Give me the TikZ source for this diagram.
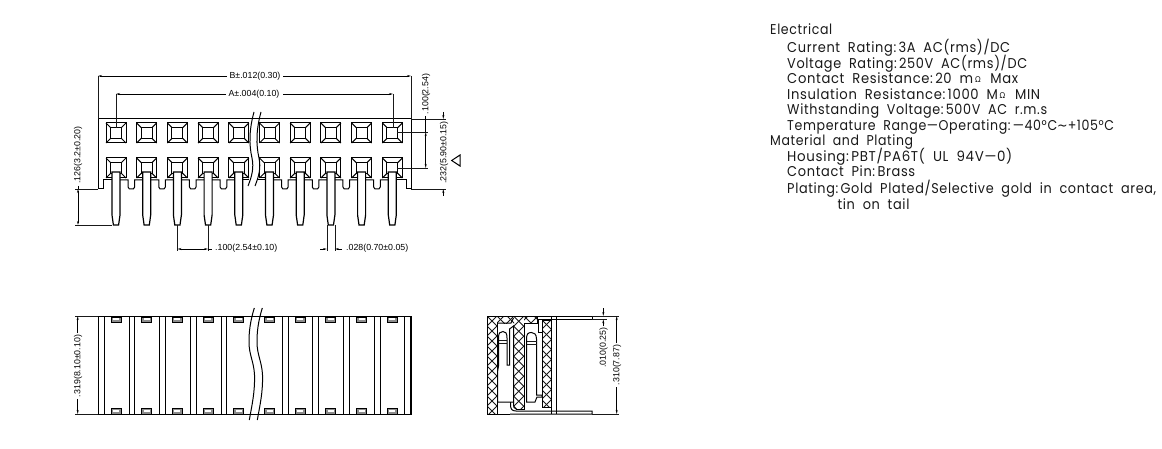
\documentclass[tikz,border=0pt]{standalone}
\usepackage{fontspec}
\usepackage{graphicx}
\usetikzlibrary{arrows.meta}
\setmainfont{Liberation Sans}
\newfontfamily\specfont[LetterSpace=5,WordSpace=1.9]{Poppins}
\newfontfamily\symfont{DejaVu Sans}
\newcommand{\omg}{\kern2pt{\symfont\raisebox{1.6pt}{\fontsize{8}{8}\selectfont Ω}}\kern2pt}
\newcommand{\cg}{\kern2.5pt}
\newsavebox{\linebox}
\newcommand{\fitted}[2]{\sbox{\linebox}{#2}\pgfmathsetmacro{\xs}{#1/(\wd\linebox/1pt)}\scalebox{\xs}[1]{\usebox{\linebox}}}
\tikzset{
  x=1pt,y=-1pt,
  ln/.style={line width=1pt,black},
  thin ln/.style={line width=0.75pt,black!90},
  dimtxt/.style={font=\fontsize{8.8}{10}\selectfont,inner sep=0pt,text=black},
  dimv/.style={dimtxt,rotate=90},
  dimarr/.style={line width=0.75pt,black,{Stealth[length=4pt,width=2pt]}-{Stealth[length=4pt,width=2pt]}},
  dimend/.style={line width=0.75pt,black,-{Stealth[length=4pt,width=2pt]}},
  plain dim/.style={line width=0.75pt,black},
  spec/.style={anchor=base west,inner sep=0pt,font=\specfont\fontsize{14.2}{16}\selectfont,text=black!90},
}
\newcommand{\sq}[2]{%
  \draw[ln] (#1,#2) rectangle ++(20,20);
  \draw[ln] (#1+4.5,#2+4.5) rectangle ++(11,11);
  \draw[ln] (#1,#2)--++(4.5,4.5) (#1+20,#2)--++(-4.5,4.5) (#1,#2+20)--++(4.5,-4.5) (#1+20,#2+20)--++(-4.5,-4.5);
}
\newcommand{\xhatch}[4]{%
  \begin{scope}
    \clip (#1,#2) rectangle (#3,#4);
    \foreach \k in {-12,...,14}{
      \draw[thin ln] (#1-5,#2+\k*10-5) -- ++(120,120);
      \draw[thin ln] (#3+5,#2+\k*10-5) -- ++(-120,120);
    }
  \end{scope}
}
\begin{document}
\begin{tikzpicture}
\useasboundingbox (0,0) rectangle (1162,449);
% ---------- top view ----------
\draw[ln] (98,189)--(98,119)--(411,119)--(411,189)--(406,189)--(406,180)--(396.3,180);
\draw[ln] (98,189)--(103,189)--(103,180)--(112,180);
\foreach \i in {0,...,9}{
  \pgfmathsetmacro{\sx}{106+30.7*\i}
  \sq{\sx}{123}
  \sq{\sx}{158}
}
\foreach \i in {0,...,9}{
  \pgfmathsetmacro{\pc}{116+30.7*\i}
  \filldraw[line width=1.2pt,black,fill=white] (\pc-4,172)--(\pc-4,215)--(\pc-2.6,225)--(\pc+2.6,225)--(\pc+4,215)--(\pc+4,172)--cycle;
}
\foreach \i in {0,1,2,3,5,6,7,8}{
  \pgfmathsetmacro{\n}{131.35+30.7*\i}
  \draw[ln] (\n-11.35,180)--(\n-3.3,180)--(\n-3.3,187)--(\n-2,189)--(\n+2,189)--(\n+3.3,187)--(\n+3.3,180)--(\n+11.35,180);
}
\draw[ln] (242.8,180)--(249,180) (257,180)--(265.5,180);
% breaks
\draw[ln] (254,112) .. controls (249,130) and (249,145) .. (252,158) .. controls (254,168) and (252,176) .. (248,186);
\draw[ln] (261,112) .. controls (256,130) and (256,145) .. (259,158) .. controls (261,168) and (259,176) .. (255,186);
% dims top
\draw[dimend] (227,76)--(98,76);
\draw[dimend] (283,76)--(411,76);
\draw[thin ln] (98,76)--(98,119) (411,76)--(411,119);
\node[dimtxt] (tb) at (255,76) {B±.012(0.30)};
\draw[dimend] (226,94)--(116,94);
\draw[dimend] (283,94)--(393,94);
\draw[thin ln] (116,94)--(116,128) (393,94)--(393,128);
\node[dimtxt] (ta) at (254,94) {A±.004(0.10)};
% right dims
\draw[thin ln] (397,132)--(428,132) (397,168)--(428,168) (411,119)--(446,119) (411,189)--(446,189);
\draw[plain dim] (425.7,116)--(425.7,132);
\draw[dimarr] (425.7,132)--(425.7,168);
\node[dimv] (t100) at (426,94) {.100(2.54)};
\draw[dimend] (443.3,112)--(443.3,119);
\draw[dimend] (443.3,196)--(443.3,189);
\node[dimv] (t232) at (444,152.5) {.232(5.90±0.15)};
\draw[ln] (451.7,160.5)--(460,155)--(460,166)--cycle;
% left dim
\draw[thin ln] (75,189)--(98,189) (75,225)--(112,225);
\draw[dimarr] (78,189)--(78,225);
\draw[plain dim] (78,186)--(78,189);
\node[dimv] (t126) at (78,155) {.126(3.2±0.20)};
% below dims
\draw[thin ln] (177.4,225)--(177.4,251) (208.1,225)--(208.1,251) (326.9,225)--(326.9,251) (334.9,225)--(334.9,251);
\draw[dimarr] (177.4,249)--(208.1,249);
\draw[plain dim] (208.1,249)--(212,249);
\node[dimtxt,anchor=west] (t100b) at (215,248.5) {.100(2.54±0.10)};
\draw[dimend] (320,249)--(326.9,249);
\draw[dimend] (342,249)--(334.9,249);
\node[dimtxt,anchor=west] (t028) at (346,248.5) {.028(0.70±0.05)};
% ---------- bottom view ----------
\draw[ln] (98,316) rectangle (411,414);
\foreach \i in {0,1,2,3,4}{
  \pgfmathsetmacro{\a}{98+30.7*\i}
  \draw[ln] (\a+0.3,316)--(\a+0.3,414) (\a+6,316)--(\a+6,414);
  \pgfmathsetmacro{\b}{282+30.7*\i}
  \draw[ln] (\b,316)--(\b,414) (\b+6,316)--(\b+6,414);
}
\foreach \i in {0,...,9}{
  \pgfmathsetmacro{\t}{111+30.7*\i}
  \filldraw[line width=0.9pt,black,fill=black!45] (\t,317) rectangle ++(10,5.5);
  \fill[white] (\t+2,318.3) rectangle ++(6,1.4);
  \filldraw[line width=0.9pt,black,fill=black!45] (\t,408.5) rectangle ++(10,5.5);
  \fill[white] (\t+2,410.3) rectangle ++(6,1.4);
}
\draw[ln] (254.3,308) .. controls (250,322) and (249,332) .. (249,342) .. controls (249,355) and (254,362) .. (254.5,375) .. controls (255,392) and (252,405) .. (249.3,420);
\draw[ln] (262.3,308) .. controls (258,322) and (257,332) .. (257,342) .. controls (257,355) and (262,362) .. (262.5,375) .. controls (263,392) and (260,405) .. (257.3,420);
\draw[thin ln] (75,316)--(98,316) (75,414)--(98,414);
\draw[dimend] (77.7,333)--(77.7,316);
\draw[dimend] (77.7,399)--(77.7,414);
\node[dimv] (t319) at (78,366) {.319(8.10±0.10)};
% ---------- side view ----------
\xhatch{487}{316}{497}{414}
\xhatch{497}{316}{514}{323}
\xhatch{513.5}{316}{524}{409}
\xhatch{524}{316}{538}{323}
\xhatch{542}{320}{551}{407}
\draw[ln] (487,316)--(592,316) (487,316)--(487,414)--(510,414);
\draw[ln] (497,323)--(497,414);
\draw[ln] (497,323)--(511,323)--(513.5,318);
\draw[ln] (524,323)--(524,409)--(516,409);
\draw[ln] (524,323)--(537.5,323)--(537.5,317);
\draw[ln] (542,320)--(542,407)--(551,407) (551,316)--(551,414) (556.5,316)--(556.5,414);
\draw[ln] (538,319.3)--(592,319.3)--(592,316);
\draw[ln] (538,319.3)--(538,332)--(542,332);
\draw[ln] (542,320)--(551,320);
% contact 1
\filldraw[ln,fill=white] (498.5,338) .. controls (498.5,333) and (500,331.5) .. (503,331.5) .. controls (505.5,331.5) and (507,333) .. (507,338) -- (507,365) -- (509.5,365)--(509.5,329)--(513.5,326)--(513.5,402)--(497.5,402)--(497.5,372)--(498.5,366)--cycle;
\draw[thin ln] (498.5,340)--(507,340) (498.5,343)--(507,343);
% contact 2
\filldraw[ln,fill=white] (526.5,339) .. controls (526.5,334) and (528,332.5) .. (531.5,332.5) .. controls (534,332.5) and (536.5,334) .. (536.5,339) -- (536.5,395)--(542,395)--(542,397)--(537,397)--(535,402)--(526.5,402)--cycle;
\draw[thin ln] (526.5,341)--(536.5,341) (526.5,344)--(536.5,344);
% lower pin
\draw[ln] (510.5,402)--(510.5,405) .. controls (510.5,409) and (512,411) .. (516,411) -- (592,411)--(592,414)--(510,414);
\draw[ln] (513.5,402) .. controls (513.5,407) and (514,409) .. (516,409);
% side dims
\draw[thin ln] (592,316)--(619,316) (592,319.3)--(607,319.3) (592,414)--(619,414);
\draw[dimend] (603.3,308)--(603.3,316);
\draw[dimend] (603.3,326)--(603.3,319.3);
\node[dimv] (t010) at (603.5,347.5) {.010(0.25)};
\draw[dimend] (616.7,343)--(616.7,316);
\draw[dimend] (616.7,387)--(616.7,414);
\node[dimv] (t310) at (617,365) {.310(7.87)};
% ---------- specification ----------
\node[spec] (s1) at (770,35) {\fitted{62}{Electrical}};
\node[spec] (s2) at (787,52.3) {\fitted{223}{Current Rating:\cg 3A AC(rms)/DC}};
\node[spec] (s3) at (787,69) {\fitted{240}{Voltage Rating:\cg 250V AC(rms)/DC}};
\node[spec] (s4) at (787,84) {\fitted{231}{Contact Resistance:\cg 20 m\omg{} Max}};
\node[spec] (s5) at (787,100) {\fitted{253}{Insulation Resistance:\cg 1000 M\omg{} MIN}};
\node[spec] (s6) at (787,115) {\fitted{260}{Withstanding Voltage:\cg 500V AC r.m.s}};
\node[spec] (s7) at (787,130.7) {\fitted{327}{Temperature Range—Operating:\cg —40°C{\symfont ∼}+105°C}};
\node[spec] (s8) at (770,145.7) {\fitted{143}{Material and Plating}};
\node[spec] (s9) at (787,162) {\fitted{225}{Housing:\cg PBT/PA6T( UL 94V—0)}};
\node[spec] (s10) at (787,177) {\fitted{128}{Contact Pin:\cg Brass}};
\node[spec] (s11) at (787,194) {\fitted{369}{Plating:\cg Gold Plated/Selective gold in contact area,}};
\node[spec] (s12) at (837.3,210) {\fitted{72}{tin on tail}};
\end{tikzpicture}
\end{document}
